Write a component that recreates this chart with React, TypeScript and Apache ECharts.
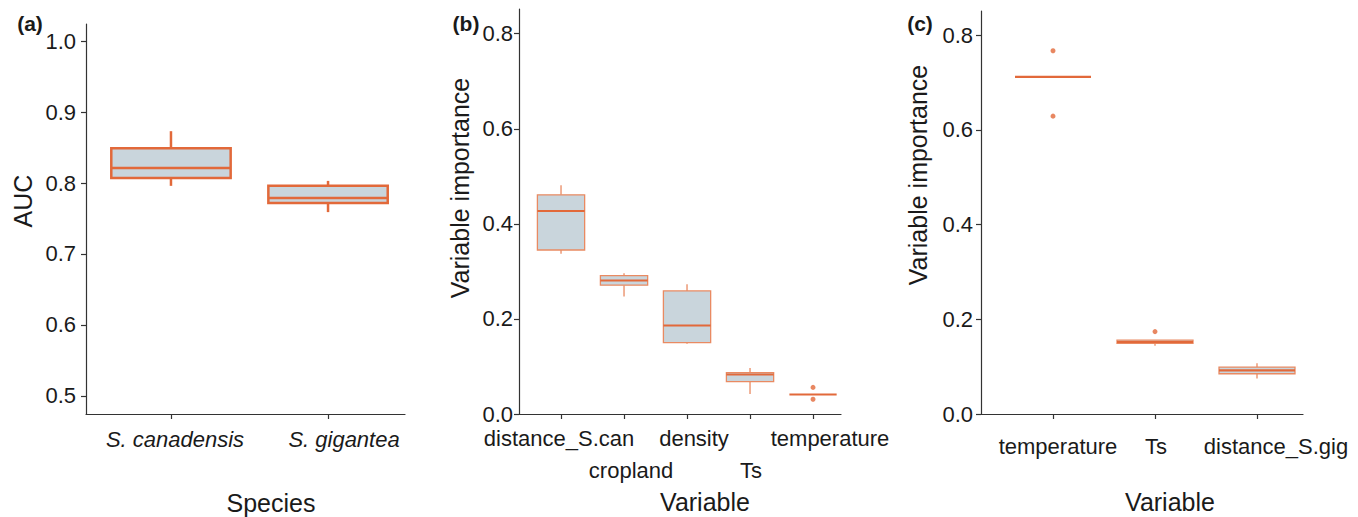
import React, { useEffect, useRef } from 'react';
import * as echarts from 'echarts';

// ---------- data ----------
const speciesCategories = ['S. canadensis', 'S. gigantea'];
// [min, q1, median, q3, max]
const aucStats = [
  [0.796, 0.807, 0.821, 0.849, 0.873],
  [0.759, 0.772, 0.779, 0.796, 0.803],
];
const aucTicks = [0.5, 0.6, 0.7, 0.8, 0.9, 1.0];

const variablesB = ['distance_S.can', 'cropland', 'density', 'Ts', 'temperature'];
const importanceStatsB = [
  [0.337, 0.345, 0.427, 0.461, 0.481],
  [0.247, 0.271, 0.281, 0.291, 0.296],
  [0.148, 0.150, 0.186, 0.259, 0.273],
  [0.042, 0.068, 0.083, 0.087, 0.097],
  [0.041, 0.041, 0.041, 0.041, 0.041],
];
const outliersB = [
  [4, 0.056],
  [4, 0.031],
];

const variablesC = ['temperature', 'Ts', 'distance_S.gig'];
const importanceStatsC = [
  [0.712, 0.712, 0.712, 0.712, 0.712],
  [0.144, 0.149, 0.152, 0.156, 0.156],
  [0.075, 0.085, 0.092, 0.099, 0.107],
];
const outliersC = [
  [0, 0.767],
  [0, 0.629],
  [1, 0.174],
];
const importanceTicks = [0, 0.2, 0.4, 0.6, 0.8];

// ---------- styles ----------
const FONT = '"Liberation Sans", Arial, Helvetica, sans-serif';
const TEXT = '#1a1a1a';
const AXIS = '#333333';
const ORANGE = '#e2693a';
const ORANGE_LIGHT = '#e98a62';
const FILL = '#c9d5dc';
const TICK_FS = 22;

function makeRender(o: { boxWidth: number; border: string; borderWidth: number; median: string; medianWidth: number; whisker: number }) {
  return (params: any, api: any) => {
    const x = api.value(0);
    const mn = api.value(1), q1 = api.value(2), md = api.value(3), q3 = api.value(4), mx = api.value(5);
    const halfW = api.size([o.boxWidth, 0])[0] / 2;
    const p1 = api.coord([x, q1]);
    const cx = p1[0];
    const yq1 = p1[1];
    const yq3 = api.coord([x, q3])[1];
    const ymd = api.coord([x, md])[1];
    const ymn = api.coord([x, mn])[1];
    const ymx = api.coord([x, mx])[1];
    const children: any[] = [];
    if (ymx < yq3 - 0.5) children.push({ type: 'line', shape: { x1: cx, y1: ymx, x2: cx, y2: yq3 }, style: { stroke: o.border, lineWidth: o.whisker } });
    if (ymn > yq1 + 0.5) children.push({ type: 'line', shape: { x1: cx, y1: yq1, x2: cx, y2: ymn }, style: { stroke: o.border, lineWidth: o.whisker } });
    if (yq1 - yq3 > 0.5) children.push({ type: 'rect', shape: { x: cx - halfW, y: yq3, width: 2 * halfW, height: yq1 - yq3 }, style: { fill: FILL, stroke: o.border, lineWidth: o.borderWidth } });
    children.push({ type: 'line', shape: { x1: cx - halfW, y1: ymd, x2: cx + halfW, y2: ymd }, style: { stroke: o.median, lineWidth: o.medianWidth } });
    return { type: 'group', children };
  };
}

// label with per-tick horizontal nudge (in px) via rich-text padding
function nudged(names: string[], nudges: number[], italic = false) {
  const rich: any = {};
  names.forEach((_, i) => {
    const d = nudges[i] || 0;
    rich['n' + i] = {
      fontSize: TICK_FS, fontFamily: FONT, color: TEXT, fontStyle: italic ? 'italic' : 'normal',
      padding: d >= 0 ? [0, 0, 0, 2 * d] : [0, -2 * d, 0, 0],
    };
  });
  const formatter = (v: number) => {
    const i = Math.round(v);
    return '{n' + i + '|' + names[i] + '}';
  };
  return { formatter, rich };
}

function xAxisCfg(gridIndex: number, min: number, max: number, labelIdx: number[], tickIdx: number[], lbl: any, margin: number, showLine = true) {
  return {
    gridIndex, type: 'value', min, max, position: 'bottom', offset: 0,
    axisLine: { show: showLine, onZero: false, lineStyle: { color: AXIS, width: 1.2 } },
    axisTick: { show: showLine, customValues: tickIdx, length: 5, lineStyle: { color: AXIS, width: 1.2 } },
    axisLabel: { customValues: labelIdx, formatter: lbl.formatter, rich: lbl.rich, fontSize: TICK_FS, color: TEXT, margin, fontFamily: FONT, hideOverlap: false },
    splitLine: { show: false },
  };
}

function yAxisCfg(gridIndex: number, min: number, max: number, ticks: number[], margin: number) {
  return {
    gridIndex, type: 'value', min, max,
    axisLine: { show: true, onZero: false, lineStyle: { color: AXIS, width: 1.2 } },
    axisTick: { show: true, customValues: ticks, length: 5, lineStyle: { color: AXIS, width: 1.2 } },
    axisLabel: { customValues: ticks, formatter: (v: number) => v.toFixed(1), fontSize: TICK_FS, color: TEXT, margin, fontFamily: FONT, hideOverlap: false },
    splitLine: { show: false },
  };
}

function txt(text: string, x: number, y: number, size: number, opts: any = {}) {
  return {
    type: 'text', x, y, rotation: opts.rotation || 0,
    style: { text, fontSize: size, fontFamily: FONT, fill: TEXT, align: 'center', verticalAlign: 'middle', fontWeight: opts.bold ? 'bold' : 'normal' },
  };
}

export default function App() {
  const ref = useRef<HTMLDivElement>(null);
  useEffect(() => {
    if (!ref.current) return;
    const chart = echarts.init(ref.current, undefined, { renderer: 'svg' });
    const allA = speciesCategories.map((_, i) => i);
    const allB = variablesB.map((_, i) => i);
    const allC = variablesC.map((_, i) => i);
    const evenB = allB.filter((i) => i % 2 === 0);
    const oddB = allB.filter((i) => i % 2 === 1);
    const lblA = nudged(speciesCategories, [4, 16], true);
    const lblB = nudged(variablesB, [-2, 7, 7, 1, 17]);
    const lblC = nudged(variablesC, [5, 1, 19]);
    const option: any = {
      animation: false,
      backgroundColor: '#ffffff',
      grid: [
        { left: 86, top: 24, width: 319, height: 390 },
        { left: 519, top: 9, width: 322, height: 405 },
        { left: 981, top: 11, width: 322, height: 403 },
      ],
      xAxis: [
        xAxisCfg(0, -0.541, 1.49, allA, allA, lblA, 14),
        xAxisCfg(1, -0.667, 4.444, evenB, allB, lblB, 13),
        xAxisCfg(1, -0.667, 4.444, oddB, oddB, lblB, 45, false),
        xAxisCfg(2, -0.706, 2.451, allC, allC, lblC, 21),
      ],
      yAxis: [
        yAxisCfg(0, 0.4746, 1.024, aucTicks, 10),
        yAxisCfg(1, 0, 0.852, importanceTicks, 6),
        yAxisCfg(2, 0, 0.851, importanceTicks, 8),
      ],
      series: [
        {
          type: 'custom', xAxisIndex: 0, yAxisIndex: 0,
          renderItem: makeRender({ boxWidth: 0.76, border: ORANGE, borderWidth: 2.5, median: ORANGE, medianWidth: 2.5, whisker: 2.5 }),
          encode: { x: 0, y: [1, 2, 3, 4, 5] },
          data: aucStats.map((s, i) => [i, ...s]),
        },
        {
          type: 'custom', xAxisIndex: 1, yAxisIndex: 1,
          renderItem: makeRender({ boxWidth: 0.75, border: ORANGE_LIGHT, borderWidth: 1.3, median: ORANGE, medianWidth: 2, whisker: 1.3 }),
          encode: { x: 0, y: [1, 2, 3, 4, 5] },
          data: importanceStatsB.map((s, i) => [i, ...s]),
        },
        {
          type: 'scatter', xAxisIndex: 1, yAxisIndex: 1, symbolSize: 5,
          itemStyle: { color: ORANGE }, data: outliersB,
        },
        {
          type: 'custom', xAxisIndex: 3, yAxisIndex: 2,
          renderItem: makeRender({ boxWidth: 0.745, border: ORANGE_LIGHT, borderWidth: 1.3, median: ORANGE, medianWidth: 2.2, whisker: 1.3 }),
          encode: { x: 0, y: [1, 2, 3, 4, 5] },
          data: importanceStatsC.map((s, i) => [i, ...s]),
        },
        {
          type: 'scatter', xAxisIndex: 3, yAxisIndex: 2, symbolSize: 5,
          itemStyle: { color: ORANGE }, data: outliersC,
        },
      ],
      graphic: [
        txt('(a)', 30, 23, 21, { bold: true }),
        txt('(b)', 466, 23, 21, { bold: true }),
        txt('(c)', 920, 23, 21, { bold: true }),
        txt('AUC', 23, 201, 25, { rotation: Math.PI / 2 }),
        txt('Variable importance', 460, 188, 25, { rotation: Math.PI / 2 }),
        txt('Variable importance', 918, 175, 25, { rotation: Math.PI / 2 }),
        txt('Species', 271, 503, 25),
        txt('Variable', 705, 502, 25),
        txt('Variable', 1170, 502, 25),
      ],
    };
    chart.setOption(option);
    return () => chart.dispose();
  }, []);
  return <div ref={ref} style={{ position: 'fixed', left: 0, top: 0, width: 1358, height: 517 }} />;
}
